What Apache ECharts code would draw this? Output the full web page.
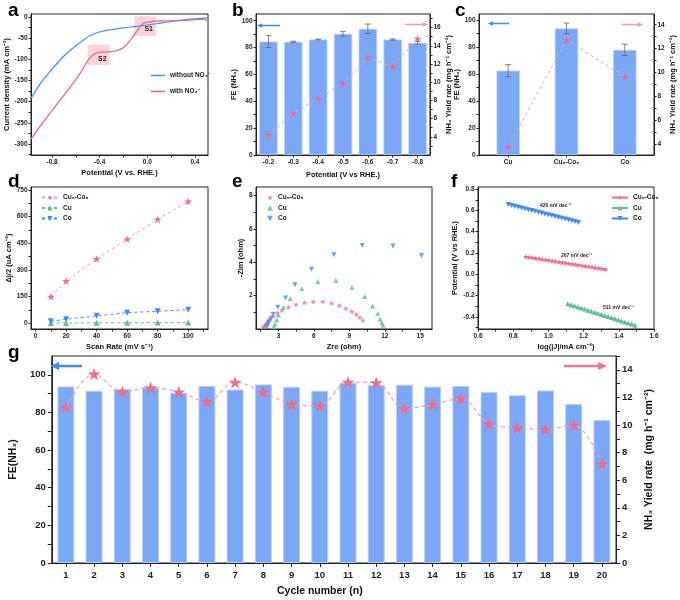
<!DOCTYPE html>
<html><head><meta charset="utf-8">
<script src="https://cdn.jsdelivr.net/npm/echarts@6/dist/echarts.min.js"></script>
<style>html,body{margin:0;padding:0;background:#fff}#c{width:680px;height:600px}</style>
</head><body><div id="c"></div><script>
// ---------- data ----------
const aWithout = [[-0.976,-192],[-0.9,-158],[-0.814,-128],[-0.74,-104],[-0.674,-85],[-0.6,-68],[-0.563,-60],[-0.52,-51],[-0.479,-44],[-0.44,-39],[-0.395,-35],[-0.33,-31],[-0.256,-28],[-0.18,-25],[-0.116,-23],[-0.05,-21],[0,-19],[0.08,-16],[0.163,-12.5],[0.25,-9],[0.33,-6],[0.42,-4],[0.51,-2]];
const aWith = [[-0.976,-288],[-0.9,-258],[-0.814,-226],[-0.74,-199],[-0.674,-175],[-0.6,-148],[-0.535,-120],[-0.5,-103],[-0.465,-92],[-0.44,-87],[-0.41,-84],[-0.37,-83],[-0.32,-82],[-0.28,-81],[-0.24,-78],[-0.2,-72],[-0.17,-64],[-0.144,-55],[-0.115,-44],[-0.088,-33],[-0.065,-24],[-0.046,-18],[-0.02,-14],[0,-12.5],[0.08,-10],[0.2,-9],[0.3,-8],[0.4,-6.5],[0.46,-6],[0.51,-9]];
const aXTicks = [-0.8,-0.6,-0.4,-0.2,0,0.2,0.4];
const aXLabels = [-0.8,-0.4,0,0.4];
const aYTicks = [-325,-300,-275,-250,-225,-200,-175,-150,-125,-100,-75,-50,-25,0];
const aYLabels = [-300,-250,-200,-150,-100,-50,0];

const bPotentials = ['-0.2','-0.3','-0.4','-0.5','-0.6','-0.7','-0.8'];
const bFE = [84.5,84.3,86,90.3,94,86,83.5];
const bFEErr = [4.5,0.5,0.3,1.8,3.5,0.5,1];
const bYield = [4.2,6.6,8.2,9.9,12.7,11.7,14.8];
const bLeftLabels = [0,20,40,60,80,100];
const bLeftTicks = [0,10,20,30,40,50,60,70,80,90,100];
const bRightLabels = [4,6,8,10,12,14,16];
const bRightTicks = [3,4,5,6,7,8,9,10,11,12,13,14,15,16,17];

const cCatalysts = ['Cu','Cu₅-Co₅','Co'];
const cFE = [62.5,93.8,77.9];
const cFEErr = [4.5,4,4.2];
const cYield = [3.75,12.7,9.65];
const cLeftLabels = [0,20,40,60,80,100];
const cLeftTicks = [0,10,20,30,40,50,60,70,80,90,100];
const cRightLabels = [4,6,8,10,12,14];
const cRightTicks = [4,5,6,7,8,9,10,11,12,13,14];

const dScanRate = [10,20,40,60,80,100];
const dCuCo = [150,238,362,474,585,686];
const dCu = [2,2,3,3,4,4];
const dCo = [12,23,42,60,68,77];
const dXLabels = [0,20,40,60,80,100];
const dXTicks = [0,10,20,30,40,50,60,70,80,90,100,110];
const dYLabels = [0,150,300,450,600,750];
const dYTicks = [0,75,150,225,300,375,450,525,600,675,750];

const eCuCo = [[1.7,0.1],[1.8,0.2],[1.95,0.32],[2.1,0.45],[2.3,0.6],[2.55,0.78],[2.9,0.96],[3.3,1.12],[3.85,1.3],[4.5,1.47],[5.2,1.58],[5.95,1.64],[6.75,1.64],[7.5,1.55],[8.15,1.41],[8.7,1.25],[9.2,1.05],[9.6,0.87],[9.9,0.7],[10.15,0.52]];
const eCu = [[2.6,0.12],[2.7,0.3],[2.85,0.55],[3.0,0.84],[3.42,1.3],[4.0,1.82],[4.98,2.42],[6.34,2.84],[7.86,2.9],[9.21,2.5],[10.3,1.94],[10.97,1.38],[11.4,0.94],[11.6,0.6],[11.75,0.38],[11.85,0.22]];
const eCo = [[2.0,0.1],[2.1,0.25],[2.2,0.42],[2.35,0.62],[2.55,0.88],[2.95,1.3],[3.6,1.85],[4.4,2.65],[5.8,3.57],[7.7,4.45],[10.1,5.0],[12.7,4.97],[15.1,4.4]];
const eXLabels = [3,6,9,12,15];
const eXTicks = [1.5,3,4.5,6,7.5,9,10.5,12,13.5,15];
const eYLabels = [2,4,6,8];
const eYTicks = [1,2,3,4,5,6,7,8];

const fCoX = [0.772,0.791,0.810,0.829,0.848,0.867,0.886,0.905,0.924,0.943,0.962,0.981,1.000,1.019,1.038,1.057,1.076,1.095,1.114,1.133,1.152,1.171];
const fCoY = [0.655,0.647,0.639,0.631,0.623,0.615,0.607,0.599,0.591,0.583,0.575,0.567,0.559,0.551,0.543,0.535,0.527,0.519,0.511,0.503,0.495,0.487];
const fCuCoX = [0.872,0.891,0.910,0.928,0.947,0.966,0.985,1.004,1.022,1.041,1.060,1.079,1.098,1.116,1.135,1.154,1.173,1.192,1.210,1.229,1.248,1.267,1.286,1.304,1.323];
const fCuCoY = [0.165,0.160,0.155,0.150,0.145,0.140,0.135,0.131,0.126,0.121,0.116,0.111,0.106,0.101,0.096,0.091,0.086,0.081,0.076,0.072,0.067,0.062,0.057,0.052,0.047];
const fCuX = [1.110,1.129,1.148,1.167,1.186,1.206,1.225,1.244,1.263,1.282,1.301,1.320,1.339,1.358,1.377,1.397,1.416,1.435,1.454,1.473,1.492];
const fCuY = [-0.277,-0.287,-0.297,-0.307,-0.317,-0.328,-0.338,-0.348,-0.358,-0.368,-0.378,-0.388,-0.398,-0.408,-0.418,-0.428,-0.439,-0.449,-0.459,-0.469,-0.479];
const fXLabels = [0.6,0.8,1.0,1.2,1.4,1.6];
const fXTicks = [0.6,0.7,0.8,0.9,1.0,1.1,1.2,1.3,1.4,1.5,1.6];
const fYLabels = [-0.4,-0.2,0,0.2,0.4,0.6,0.8];
const fYTicks = [-0.5,-0.4,-0.3,-0.2,-0.1,0,0.1,0.2,0.3,0.4,0.5,0.6,0.7,0.8];
const fSlopes = ['420 mV dec⁻¹','267 mV dec⁻¹','511 mV dec⁻¹'];

const gCycles = ['1','2','3','4','5','6','7','8','9','10','11','12','13','14','15','16','17','18','19','20'];
const gFE = [93.8,91.5,92.4,93.3,90.5,94.0,92.2,94.9,93.6,91.5,95.8,94.7,94.7,93.7,94.0,90.8,89.1,91.7,84.5,76.0];
const gYield = [11.3,13.7,12.4,12.7,12.4,11.7,13.1,12.4,11.5,11.4,13.1,13.06,11.2,11.5,11.9,10.1,9.8,9.7,10.0,7.2];
const gLeftLabels = [0,20,40,60,80,100];
const gLeftTicks = [0,10,20,30,40,50,60,70,80,90,100];
const gRightLabels = [0,2,4,6,8,10,12,14];
const gRightTicks = [0,1,2,3,4,5,6,7,8,9,10,11,12,13,14,15];

// ---------- styles ----------
const FONT = 'Liberation Sans, Arial, Helvetica, sans-serif';
const INK = '#222';
const BLUE = '#3d8cf2', PINK = '#ef6a8d', GREEN = '#5dbf8e', LPINK = '#f39db3';
const BAR = '#7aa8f6';
const STAR = 'path://M12,0 L14.8,8.6 L23.8,8.6 L16.5,13.9 L19.3,22.5 L12,17.2 L4.7,22.5 L7.5,13.9 L0.2,8.6 L9.2,8.6 Z';
const TRI_UP = 'path://M5,0 L10,9 L0,9 Z';
const TRI_DOWN = 'path://M0,0 L10,0 L5,9 Z';

function fmt1(v){ return (Math.abs(v) < 1e-9 ? 0 : v).toFixed(1); }
function fmt0(v){ return String(Math.round(v)); }

function vAxis(o){
  return {
    type:'value', gridIndex:o.g, min:o.min, max:o.max, position:o.pos,
    name:o.name||'', nameLocation:'middle', nameGap:o.gap||18, nameRotate:o.rot,
    nameTextStyle:{fontFamily:FONT, fontWeight:'bold', fontSize:o.nfs||7.5, color:'#111'},
    axisLine:{show:true, onZero:false, lineStyle:{color:INK, width:1}},
    axisTick:{show:true, inside:false, length:o.tl||2.5, customValues:o.ticks, lineStyle:{color:INK, width:1}},
    axisLabel:{show:true, customValues:o.labels, fontFamily:FONT, fontWeight:'bold', fontSize:o.fs||6.5, color:INK, margin:o.margin||3.5, formatter:o.fmt||fmt0, hideOverlap:false},
    splitLine:{show:false}, minorTick:{show:false}
  };
}
function cAxis(o){
  return {
    type:'category', gridIndex:o.g, data:o.data, boundaryGap:true, position:'bottom',
    name:o.name||'', nameLocation:'middle', nameGap:o.gap||18,
    nameTextStyle:{fontFamily:FONT, fontWeight:'bold', fontSize:o.nfs||7.5, color:'#111', padding:o.npad||0},
    axisLine:{show:true, onZero:false, lineStyle:{color:INK, width:1}},
    axisTick:{show:true, alignWithLabel:true, length:o.tl||2.5, lineStyle:{color:INK}},
    axisLabel:{fontFamily:FONT, fontWeight:'bold', fontSize:o.fs||6.5, color:INK, margin:o.margin||4, interval:0},
    splitLine:{show:false}
  };
}
function grid(l,t,w,h){ return {left:l, top:t, width:w, height:h, show:true, borderColor:INK, borderWidth:1, backgroundColor:'transparent'}; }

function errRender(params, api){
  const lo = api.coord([api.value(0), api.value(1)]);
  const hi = api.coord([api.value(0), api.value(2)]);
  const w = 3;
  const st = {stroke:'#666', lineWidth:0.8};
  return {type:'group', children:[
    {type:'line', shape:{x1:lo[0], y1:lo[1], x2:hi[0], y2:hi[1]}, style:st},
    {type:'line', shape:{x1:lo[0]-w, y1:lo[1], x2:lo[0]+w, y2:lo[1]}, style:st},
    {type:'line', shape:{x1:hi[0]-w, y1:hi[1], x2:hi[0]+w, y2:hi[1]}, style:st}
  ]};
}

function arrow(x1, x2, y, color, headLeft, lw, hl, hw){
  const pts = headLeft ? [[x1-1,y],[x1+hl,y-hw],[x1+hl,y+hw]] : [[x2+1,y],[x2-hl,y-hw],[x2-hl,y+hw]];
  return [
    {type:'line', shape:{x1:headLeft?x1+hl-1:x1, y1:y, x2:headLeft?x2:x2-hl+1, y2:y}, style:{stroke:color, lineWidth:lw}, z:100},
    {type:'polygon', shape:{points:pts}, style:{fill:color}, z:100}
  ];
}
function letter(t, x, y){ return {type:'text', left:x, top:y, style:{text:t, fontFamily:FONT, fontWeight:'bold', fontSize:19, fill:'#000'}, z:100}; }
const legText = {fontFamily:FONT, fontWeight:'bold', fontSize:6.5, color:INK};

const chart = echarts.init(document.getElementById('c'), null, {renderer:'canvas'});

const option = {
  backgroundColor:'#fff',
  animation:false,
  textStyle:{fontFamily:FONT},
  grid:[
    grid(31,14,177,141),   // a 0
    grid(256,14,174,141),  // b 1
    grid(479,14,175,141),  // c 2
    grid(31,187,177,142),  // d 3
    grid(256,187,176,142), // e 4
    grid(478,187,176,142), // f 5
    grid(45,356,571,207)   // g 6
  ],
  xAxis:[
    vAxis({g:0, min:-0.977, max:0.51, pos:'bottom', name:'Potential (V vs. RHE.)', gap:14, ticks:aXTicks, labels:aXLabels, fmt:fmt1}),
    cAxis({g:1, data:bPotentials, name:'Potential (V vs RHE.)', gap:16}),
    cAxis({g:2, data:cCatalysts, name:''}),
    vAxis({g:3, min:-3, max:113, pos:'bottom', name:'Scan Rate (mV s⁻¹)', gap:14, ticks:dXTicks, labels:dXLabels}),
    vAxis({g:4, min:1.1, max:16, pos:'bottom', name:'Zre (ohm)', gap:14, ticks:eXTicks, labels:eXLabels}),
    vAxis({g:5, min:0.6, max:1.6, pos:'bottom', name:'log(|J|/mA cm⁻²)', gap:14, ticks:fXTicks, labels:fXLabels, fmt:fmt1}),
    cAxis({g:6, data:gCycles, name:'Cycle number (n)', gap:23, fs:9.5, nfs:10.5, tl:4, margin:7, npad:[0,28,0,0]})
  ],
  yAxis:[
    vAxis({g:0, min:-326, max:7, pos:'left', name:'Current density (mA cm⁻²)', gap:20, rot:90, ticks:aYTicks, labels:aYLabels}),
    vAxis({g:1, min:0, max:105, pos:'left', name:'FE (NH₃)', gap:18, rot:90, ticks:bLeftTicks, labels:bLeftLabels}),
    vAxis({g:1, min:2, max:17.5, pos:'right', name:'NH₃ Yield rate (mg h⁻¹ cm⁻²)', gap:13, rot:90, ticks:bRightTicks, labels:bRightLabels}),
    vAxis({g:2, min:0, max:104.5, pos:'left', name:'FE (NH₃)', gap:12, rot:90, ticks:cLeftTicks, labels:cLeftLabels}),
    vAxis({g:2, min:3.07, max:14.9, pos:'right', name:'NH₃ Yield rate (mg h⁻¹ cm⁻²)', gap:14, rot:90, ticks:cRightTicks, labels:cRightLabels}),
    vAxis({g:3, min:-32, max:767, pos:'left', name:'Δj/2 (uA cm⁻²)', gap:17, rot:90, ticks:dYTicks, labels:dYLabels}),
    vAxis({g:4, min:0, max:8.5, pos:'left', name:'-Zim (ohm)', gap:10, rot:90, ticks:eYTicks, labels:eYLabels}),
    vAxis({g:5, min:-0.515, max:0.82, pos:'left', name:'Potential (V vs RHE.)', gap:17, rot:90, ticks:fYTicks, labels:fYLabels, fmt:fmt1}),
    vAxis({g:6, min:0, max:110, pos:'left', name:'FE(NH₃)', gap:30, rot:90, ticks:gLeftTicks, labels:gLeftLabels, fs:9.5, nfs:10.5, tl:4, margin:6}),
    vAxis({g:6, min:0, max:15, pos:'right', name:'NH₃ Yield rate  (mg h⁻¹ cm⁻²)', gap:25, rot:90, ticks:gRightTicks, labels:gRightLabels, fs:9.5, nfs:10.5, tl:4, margin:6})
  ],
  legend:[
    {left:146, top:67, orient:'vertical', icon:'rect', itemWidth:14, itemHeight:1.5, itemGap:9, data:['without NO₃⁻','with NO₃⁻'], textStyle:legText},
    {left:36, top:189, orient:'vertical', itemWidth:16, itemHeight:6, itemGap:3.5, data:['Cu₅-Co₅','Cu','Co'], textStyle:legText},
    {left:262, top:189, orient:'vertical', itemWidth:6, itemHeight:6, itemGap:3.5, data:['Cu₅-Co₅ ','Cu ','Co '], textStyle:legText},
    {left:606, top:189, orient:'vertical', itemWidth:16, itemHeight:6, itemGap:3.5, data:['Cu₅-Co₅  ','Cu  ','Co  '], textStyle:legText}
  ],
  series:[
    // a
    {type:'line', name:'without NO₃⁻', xAxisIndex:0, yAxisIndex:0, data:aWithout, smooth:0.4, showSymbol:false, symbol:'none',
     lineStyle:{color:'#3f8ff2', width:1.2}, itemStyle:{color:'#3f8ff2'}},
    {type:'line', name:'with NO₃⁻', xAxisIndex:0, yAxisIndex:0, data:aWith, smooth:0.4, showSymbol:false, symbol:'none',
     lineStyle:{color:'#e8637f', width:1.2}, itemStyle:{color:'#e8637f'},
     markArea:{silent:true, itemStyle:{color:'rgba(245,160,170,0.45)'},
       label:{show:true, position:'insideBottomRight', fontFamily:FONT, fontWeight:'bold', fontSize:7, color:'#222', distance:3},
       data:[
         [{name:'S2', xAxis:-0.5, yAxis:-65},{xAxis:-0.317, yAxis:-114}],
         [{name:'S1', xAxis:-0.11, yAxis:1.5},{xAxis:0.073, yAxis:-45}]
       ]}},
    // b
    {type:'bar', name:'b FE', xAxisIndex:1, yAxisIndex:1, data:bFE, barWidth:'74%',
     itemStyle:{color:BAR, borderColor:'#b4cdfa', borderWidth:0.8}},
    {type:'custom', name:'b err', xAxisIndex:1, yAxisIndex:1, renderItem:errRender, z:5,
     encode:{x:0, y:[1,2]}, data:bFE.map((v,i)=>[i, v-bFEErr[i], v+bFEErr[i]])},
    {type:'line', name:'b yield', xAxisIndex:1, yAxisIndex:2, data:bYield, symbol:STAR, symbolSize:8, symbolKeepAspect:true, z:6,
     lineStyle:{color:LPINK, width:1, type:[3,3]}, itemStyle:{color:PINK}},
    // c
    {type:'bar', name:'c FE', xAxisIndex:2, yAxisIndex:3, data:cFE, barWidth:'40%',
     itemStyle:{color:BAR, borderColor:'#b4cdfa', borderWidth:0.8}},
    {type:'custom', name:'c err', xAxisIndex:2, yAxisIndex:3, renderItem:errRender, z:5,
     encode:{x:0, y:[1,2]}, data:cFE.map((v,i)=>[i, v-cFEErr[i], v+cFEErr[i]])},
    {type:'line', name:'c yield', xAxisIndex:2, yAxisIndex:4, data:cYield, symbol:STAR, symbolSize:8, symbolKeepAspect:true, z:6,
     lineStyle:{color:LPINK, width:1, type:[3,3]}, itemStyle:{color:PINK}},
    // d
    {type:'line', name:'Cu₅-Co₅', xAxisIndex:3, yAxisIndex:5, data:dScanRate.map((x,i)=>[x,dCuCo[i]]), symbol:STAR, symbolSize:8, symbolKeepAspect:true,
     lineStyle:{color:LPINK, width:1, type:[3,3]}, itemStyle:{color:PINK}},
    {type:'line', name:'Cu', xAxisIndex:3, yAxisIndex:5, data:dScanRate.map((x,i)=>[x,dCu[i]]), symbol:TRI_UP, symbolSize:6,
     lineStyle:{color:GREEN, width:1, type:[3,3]}, itemStyle:{color:GREEN}},
    {type:'line', name:'Co', xAxisIndex:3, yAxisIndex:5, data:dScanRate.map((x,i)=>[x,dCo[i]]), symbol:TRI_DOWN, symbolSize:6,
     lineStyle:{color:BLUE, width:1, type:[3,3]}, itemStyle:{color:BLUE}},
    // e
    {type:'scatter', name:'Cu₅-Co₅ ', xAxisIndex:4, yAxisIndex:6, data:eCuCo, symbol:STAR, symbolSize:6, symbolKeepAspect:true, itemStyle:{color:PINK}},
    {type:'scatter', name:'Cu ', xAxisIndex:4, yAxisIndex:6, data:eCu, symbol:TRI_UP, symbolSize:5, itemStyle:{color:GREEN}},
    {type:'scatter', name:'Co ', xAxisIndex:4, yAxisIndex:6, data:eCo, symbol:TRI_DOWN, symbolSize:5, itemStyle:{color:BLUE}},
    // f
    {type:'line', name:'Cu₅-Co₅  ', xAxisIndex:5, yAxisIndex:7, data:fCuCoX.map((x,i)=>[x,fCuCoY[i]]), symbol:STAR, symbolSize:6, symbolKeepAspect:true,
     lineStyle:{color:PINK, width:0.8}, itemStyle:{color:PINK}},
    {type:'line', name:'Cu  ', xAxisIndex:5, yAxisIndex:7, data:fCuX.map((x,i)=>[x,fCuY[i]]), symbol:TRI_UP, symbolSize:5,
     lineStyle:{color:GREEN, width:0.8}, itemStyle:{color:GREEN}},
    {type:'line', name:'Co  ', xAxisIndex:5, yAxisIndex:7, data:fCoX.map((x,i)=>[x,fCoY[i]]), symbol:TRI_DOWN, symbolSize:5,
     lineStyle:{color:BLUE, width:0.8}, itemStyle:{color:BLUE}},
    // g
    {type:'bar', name:'g FE', xAxisIndex:6, yAxisIndex:8, data:gFE, barWidth:'60%',
     itemStyle:{color:BAR, borderColor:'#b4cdfa', borderWidth:1}},
    {type:'line', name:'g yield', xAxisIndex:6, yAxisIndex:9, data:gYield, smooth:0.35, symbol:STAR, symbolSize:13, symbolKeepAspect:true, z:6,
     lineStyle:{color:LPINK, width:1.2, type:[4,3]}, itemStyle:{color:PINK}}
  ],
  graphic:[
    letter('a',8,1), letter('b',232,1), letter('c',455,1), letter('d',8,172), letter('e',232,172), letter('f',451,172), letter('g',8,343),
    ...arrow(258,280,25.5,BLUE,true,1.5,4,2.2),
    ...arrow(405,427,24.5,LPINK,false,1.5,4,2.2),
    ...arrow(489,509,23.5,BLUE,true,1.5,4,2.2),
    ...arrow(622,642,24.5,LPINK,false,1.5,4,2.2),
    ...arrow(51,82,366,BLUE,true,2.5,8,4),
    ...arrow(564,606,366,'#ef7895',false,2.5,8,4),
    {type:'text', left:540, top:203, style:{text:fSlopes[0], fontFamily:FONT, fontWeight:'bold', fontSize:5, fill:'#222'}, z:100},
    {type:'text', left:561, top:253, style:{text:fSlopes[1], fontFamily:FONT, fontWeight:'bold', fontSize:5, fill:'#222'}, z:100},
    {type:'text', left:603, top:305, style:{text:fSlopes[2], fontFamily:FONT, fontWeight:'bold', fontSize:5, fill:'#222'}, z:100}
  ]
};
chart.setOption(option);
</script></body></html>
